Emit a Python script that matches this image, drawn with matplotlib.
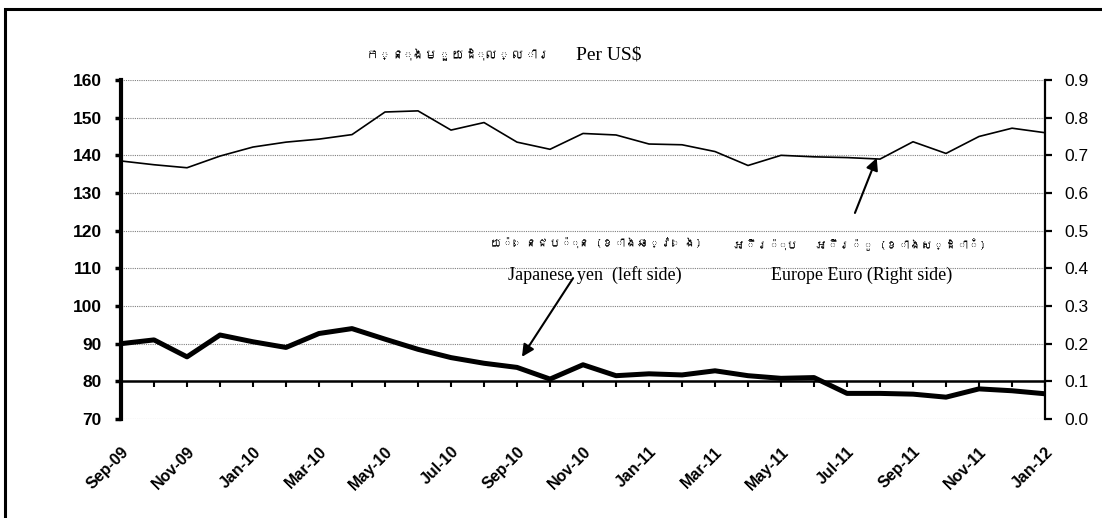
import matplotlib
matplotlib.use("Agg")
import matplotlib.pyplot as plt
from matplotlib import font_manager
from matplotlib.ft2font import FT2Font
from matplotlib.patches import Rectangle

months = ["Sep-09", "Oct-09", "Nov-09", "Dec-09", "Jan-10", "Feb-10", "Mar-10", "Apr-10",
          "May-10", "Jun-10", "Jul-10", "Aug-10", "Sep-10", "Oct-10", "Nov-10", "Dec-10",
          "Jan-11", "Feb-11", "Mar-11", "Apr-11", "May-11", "Jun-11", "Jul-11", "Aug-11",
          "Sep-11", "Oct-11", "Nov-11", "Dec-11", "Jan-12"]
yen = [90.0, 91.0, 86.5, 92.3, 90.5, 89.0, 92.7, 94.0, 91.2, 88.5, 86.3, 84.8, 83.7, 80.6,
       84.4, 81.5, 82.0, 81.7, 82.8, 81.5, 80.8, 81.0, 76.8, 76.8, 76.6, 75.8, 78.0, 77.5, 76.7]
euro = [0.685, 0.675, 0.667, 0.698, 0.722, 0.735, 0.743, 0.755, 0.815, 0.818, 0.767, 0.787,
        0.735, 0.716, 0.758, 0.754, 0.730, 0.728, 0.710, 0.673, 0.700, 0.696, 0.694, 0.690,
        0.736, 0.705, 0.750, 0.772, 0.760]
left_ticks = [70, 80, 90, 100, 110, 120, 130, 140, 150, 160]
right_ticks = [0.0, 0.1, 0.2, 0.3, 0.4, 0.5, 0.6, 0.7, 0.8, 0.9]

title_kh = "ក្នុងមួយដុល្លារ"
title_en = "Per US$"
yen_kh = "យ៉េនជប៉ុន (ខាងឆ្វេង)"
yen_en = "Japanese yen  (left side)"
euro_kh = "អឺរ៉ុប   អឺរ៉ូ (ខាងស្ដាំ)"
euro_en = "Europe Euro (Right side)"


def khmer_family():
    # look for any installed font with Khmer glyphs
    for path in font_manager.findSystemFonts():
        try:
            if 0x1780 in FT2Font(path).get_charmap():
                return font_manager.FontProperties(fname=path).get_name()
        except Exception:
            pass
    return None


kh = khmer_family()
kh_fam = [kh, "DejaVu Sans"] if kh else ["DejaVu Sans"]

plt.rcParams["font.family"] = ["Liberation Sans", "DejaVu Sans"]

fig = plt.figure(figsize=(11.02, 5.18), dpi=100)
ax = fig.add_axes([0.1098, 0.1911, 0.8385, 0.6545])
ax2 = ax.twinx()

x = list(range(len(months)))
ax.plot(x, yen, color="black", lw=3.6, zorder=3)
ax2.plot(x, euro, color="black", lw=1.2, zorder=3)

ax.set_xlim(0, len(months) - 1)
ax.set_ylim(70, 160)
ax2.set_ylim(0, 0.9)
ax.set_yticks(left_ticks)
ax2.set_yticks(right_ticks)
ax2.set_yticklabels(["%.1f" % v for v in right_ticks])

for v in left_ticks:
    if v != 80:
        ax.axhline(v, color="#808080", lw=0.8, ls=(0, (1, 1)), zorder=1)
ax.axhline(80, color="black", lw=1.8, zorder=2)

for s in ["top", "bottom"]:
    ax.spines[s].set_visible(False)
    ax2.spines[s].set_visible(False)
ax2.spines["left"].set_visible(False)
ax.spines["right"].set_visible(False)
ax.spines["left"].set_linewidth(3)
ax2.spines["right"].set_linewidth(1.6)

ax.tick_params(axis="y", direction="out", length=4, width=2.5, pad=10, labelsize=12.5)
for lab in ax.get_yticklabels():
    lab.set_fontweight("bold")
ax2.tick_params(axis="y", direction="out", length=5, width=1.6, pad=9, labelsize=12.5)

ax.set_xticks(x[::2])
ax.set_xticklabels(months[::2], rotation=45, ha="right", rotation_mode="anchor",
                   fontsize=11.5, fontweight="bold")
ax.tick_params(axis="x", length=0, pad=18)

# month ticks hanging from the 80 line
sec = ax.secondary_xaxis(10 / 90)
sec.set_xticks(x)
sec.tick_params(axis="x", direction="out", length=4, width=1.5, labelbottom=False)
sec.spines["bottom"].set_visible(False)

fig.text(0.500, 0.894, title_kh, family=kh_fam, fontsize=9.5, fontweight="bold", ha="right", va="center")
fig.text(0.523, 0.894, title_en, family="Liberation Serif", fontsize=14, ha="left", va="center")

ax.text(14.39, 117.0, yen_kh, family=kh_fam, fontsize=8.5, fontweight="bold", ha="center", va="center")
ax.text(14.36, 108.2, yen_en, family="Liberation Serif", fontsize=13, ha="center", va="center")
ax.text(22.36, 116.2, euro_kh, family=kh_fam, fontsize=8.5, fontweight="bold", ha="center", va="center")
ax.text(22.45, 108.2, euro_en, family="Liberation Serif", fontsize=13, ha="center", va="center")

arrow = dict(arrowstyle="-|>", color="black", lw=1.5, mutation_scale=18, shrinkA=0, shrinkB=0)
ax.annotate("", xy=(12.15, 86.5), xytext=(13.7, 107.4), arrowprops=arrow)
ax.annotate("", xy=(22.9, 139.3), xytext=(22.24, 124.7), arrowprops=arrow)

fig.patches.append(Rectangle((0.0048, -0.05), 1.05, 1.032, transform=fig.transFigure,
                             fill=False, edgecolor="black", lw=2.2))

fig.savefig("out.png", dpi=100)
